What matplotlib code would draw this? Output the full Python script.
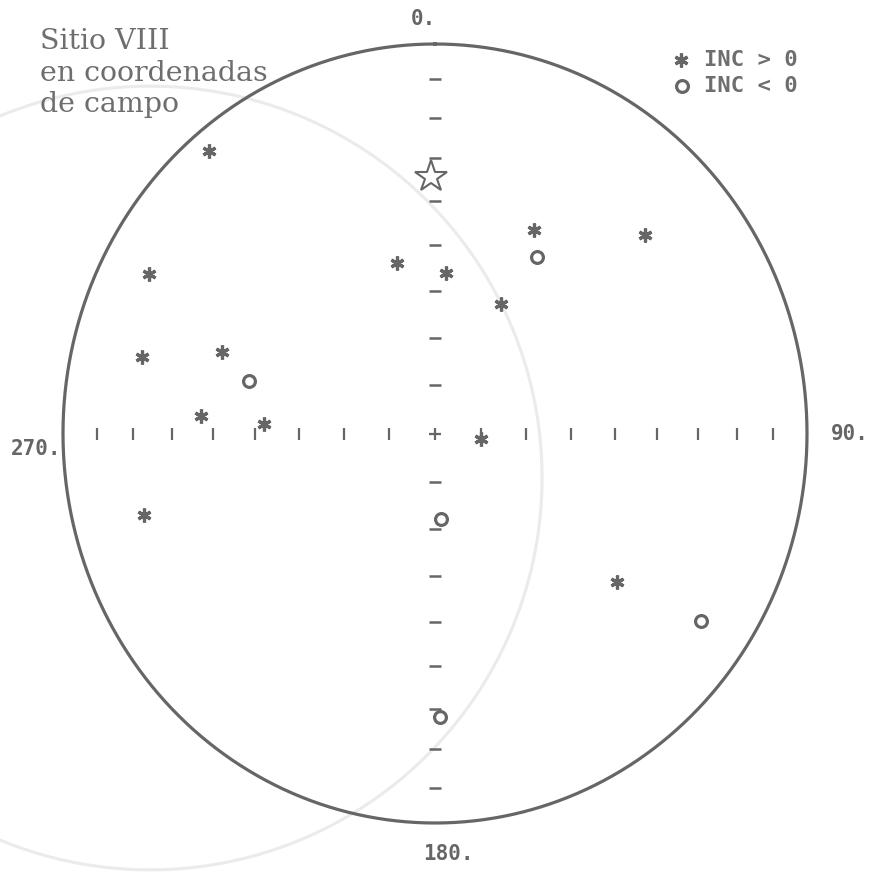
import numpy as np
import matplotlib
matplotlib.use("Agg")
import matplotlib.pyplot as plt

# Paleomagnetic directions, site VIII, field coordinates (degrees)
dec_down = [320, 298, 284, 290, 274, 273, 255, 347, 4, 28, 27, 48, 97, 128]
inc_down = [6, 14, 20, 39, 37, 52, 20, 53, 56, 59, 41, 25, 80, 38]
dec_up = [285, 31, 176, 124, 179]
inc_up = [-47, -46, -72, -15, -28]
ref_dec = [359]
ref_inc = [34.6]

tick_incs = [10, 20, 30, 40, 50, 60, 70, 80]
axis_labels = ["0.", "90.", "180.", "270."]
title_text = "Sitio VIII\nen coordenadas\nde campo"
legend_labels = ["INC > 0", "INC < 0"]

INK = "#666666"
W, H = 880, 874


def equal_area(dec, inc):
    dec = np.radians(np.asarray(dec, float))
    inc = np.abs(np.asarray(inc, float))
    r = np.sqrt(2.0) * np.sin(np.radians(90.0 - inc) / 2.0)
    return r * np.sin(dec), r * np.cos(dec)


def fx(px):
    return px / W


def fy(py):
    return 1.0 - py / H


fig = plt.figure(figsize=(W / 100, H / 100), dpi=100)
fig.patch.set_facecolor("white")

# primitive circle spans pixels x 63..807, y 44..823
ax = fig.add_axes([fx(63), fy(823), (807 - 63) / W, (823 - 44) / H])
ax.set_xlim(-1, 1)
ax.set_ylim(-1, 1)
ax.axis("off")

# faint show-through of the facing page's net
t = np.linspace(0, 2 * np.pi, 721)
gcx, gcy = (150 - 435) / 372.0, (433.5 - 478) / 389.5
ax.plot(gcx + 1.054 * np.sin(t), gcy + 1.006 * np.cos(t), color="#ebebeb",
        lw=2.2, clip_on=False, zorder=0, solid_capstyle="round")

# primitive
ax.plot(np.sin(t), np.cos(t), color=INK, lw=2.3, clip_on=False, zorder=2)

# graduated N-S and E-W axes (equal-area spacing, 10 degree steps)
tx, _ = equal_area(90, tick_incs)
ax.plot(np.concatenate([tx, -tx]), np.zeros(2 * len(tick_incs)), ls="none",
        marker="|", ms=8, mew=1.6, color=INK, zorder=3)
_, ty = equal_area(0, tick_incs)
ax.plot(np.zeros(2 * len(tick_incs)), np.concatenate([ty, -ty]), ls="none",
        marker="_", ms=9, mew=1.8, color=INK, zorder=3)
ax.plot([0], [0], ls="none", marker="+", ms=9, mew=1.6, color=INK, zorder=3)

# directions
x, y = equal_area(dec_down, inc_down)
ax.plot(x, y, ls="none", marker=(6, 2, 0), ms=10, mew=2.3, color=INK, zorder=4)
x, y = equal_area(dec_up, inc_up)
ax.plot(x, y, ls="none", marker="o", ms=8.5, mew=2.3, mfc="white", mec=INK, zorder=4)
x, y = equal_area(ref_dec, ref_inc)
ax.plot(x, y, ls="none", marker="*", ms=24, mew=1.5, mfc="white", mec=INK, zorder=5)

# compass labels
lab_font = dict(family="DejaVu Sans Mono", fontweight="bold", fontsize=15, color=INK)
fig.text(fx(411), fy(19), axis_labels[0], ha="left", va="center", **lab_font)
fig.text(fx(831), fy(434), axis_labels[1], ha="left", va="center", **lab_font)
fig.text(fx(423), fy(854), axis_labels[2], ha="left", va="center", **lab_font)
fig.text(fx(61), fy(449), axis_labels[3], ha="right", va="center", **lab_font)

# site caption
fig.text(fx(40), fy(28), title_text, ha="left", va="top", family="DejaVu Serif",
         fontsize=20.5, color="#6e6e6e", linespacing=1.22)

# key
leg_font = dict(family="DejaVu Sans Mono", fontweight="bold", fontsize=16, color="#6e6e6e")
fig.add_artist(plt.Line2D([fx(681)], [fy(60)], ls="none", marker=(6, 2, 0), ms=10,
                          mew=2.3, color=INK, transform=fig.transFigure))
fig.add_artist(plt.Line2D([fx(682)], [fy(86)], ls="none", marker="o", ms=8.5,
                          mew=2.3, mfc="white", mec=INK, transform=fig.transFigure))
fig.text(fx(704), fy(60), legend_labels[0], ha="left", va="center", **leg_font)
fig.text(fx(704), fy(86), legend_labels[1], ha="left", va="center", **leg_font)

fig.savefig("out.png", dpi=100, facecolor="white")
